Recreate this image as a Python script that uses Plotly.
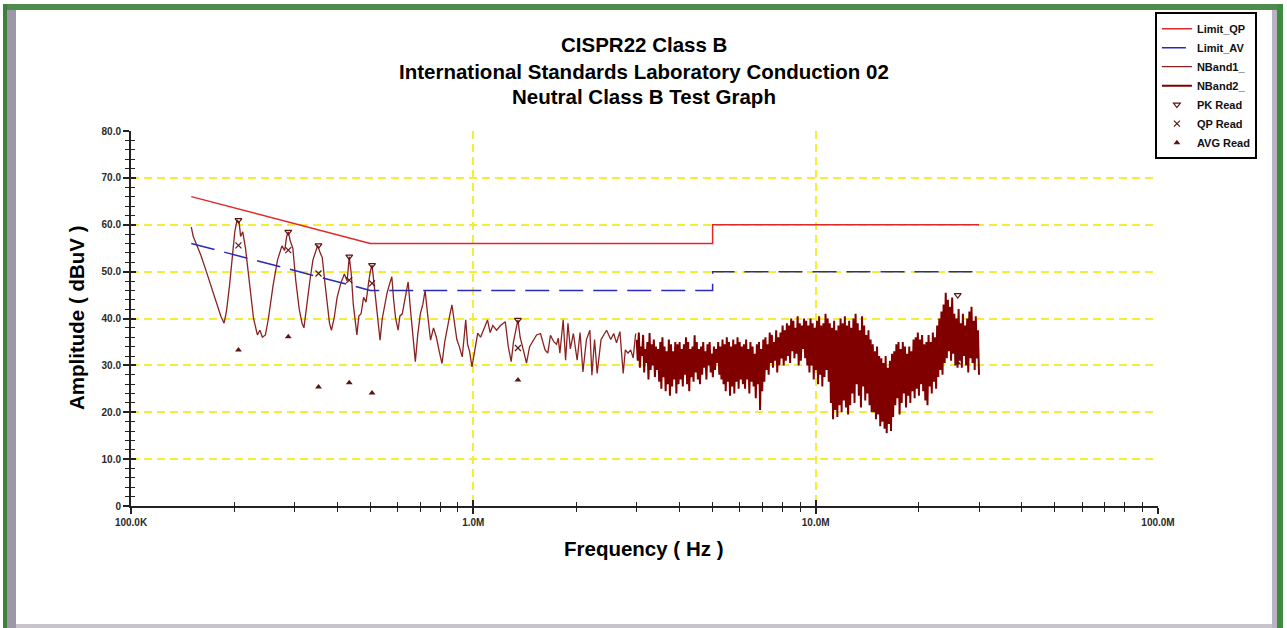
import numpy as np
import plotly.graph_objects as go

# ---------------- data ----------------
# Limit lines (frequency in MHz, level in dBuV)
limit_f_mhz = [0.15, 0.5, 5.0, 5.0, 30.0]
limit_qp = [66.0, 56.0, 56.0, 60.0, 60.0]
limit_av = [56.0, 46.0, 46.0, 50.0, 50.0]

# NBand1: low-frequency sweep, read point by point (MHz, dBuV)
nb1_f_mhz = [
    0.150, 0.152, 0.155, 0.160, 0.166, 0.172, 0.178, 0.183, 0.187, 0.190,
    0.194, 0.198, 0.201, 0.204, 0.207, 0.209, 0.212, 0.216, 0.222, 0.228,
    0.234, 0.238, 0.242, 0.247, 0.252, 0.260, 0.268, 0.276, 0.281, 0.285,
    0.288, 0.292, 0.297, 0.303, 0.310, 0.316, 0.320, 0.326, 0.333, 0.340,
    0.346, 0.351, 0.357, 0.362, 0.368, 0.374, 0.380, 0.385, 0.392, 0.400,
    0.410, 0.420, 0.428, 0.434, 0.440, 0.446, 0.452, 0.457, 0.463, 0.470,
    0.478, 0.486, 0.494, 0.500, 0.506, 0.512, 0.520, 0.527, 0.534, 0.542,
    0.552, 0.560, 0.570, 0.578, 0.585, 0.593, 0.603, 0.610, 0.620, 0.632,
    0.645, 0.655, 0.668, 0.677, 0.688, 0.700, 0.712, 0.723, 0.735, 0.750,
    0.765, 0.780, 0.795, 0.810, 0.825, 0.840, 0.855, 0.866, 0.880, 0.895,
    0.910, 0.928, 0.940, 0.950, 0.962, 0.975, 0.991, 1.010, 1.030, 1.050,
    1.075, 1.100, 1.120, 1.140, 1.170, 1.200, 1.240, 1.265, 1.290, 1.310,
    1.335, 1.350, 1.370, 1.400, 1.430, 1.460, 1.500, 1.530, 1.571, 1.600,
    1.620, 1.650, 1.680, 1.720, 1.750, 1.770, 1.790, 1.830, 1.860, 1.890,
    1.920, 1.960, 2.010, 2.050, 2.090, 2.140, 2.190, 2.220, 2.260, 2.300,
    2.360, 2.450, 2.520, 2.570, 2.620, 2.680, 2.740, 2.780, 2.830, 2.880,
    2.930, 2.980,
]
nb1_db = [
    59.5, 57.5, 56.0, 53.5, 50.0, 46.5, 43.0, 40.5, 39.0, 41.5,
    47.0, 54.0, 58.5, 61.0, 60.5, 57.5, 58.5, 55.0, 47.0, 40.0,
    36.5, 37.5, 36.0, 36.5, 40.0, 47.0, 52.5, 55.5, 54.5, 57.5,
    58.5, 56.5, 55.0, 48.0, 42.0, 39.0, 38.0, 43.0, 48.0, 52.5,
    54.0, 55.6, 54.0, 53.0, 48.0, 43.0, 39.0, 37.5, 40.0, 44.5,
    47.5, 49.5, 48.0, 53.2, 49.5, 43.0, 40.0, 36.5, 40.5, 41.0,
    44.5, 43.5, 47.5, 50.0, 51.4, 48.0, 44.0, 39.0, 35.4, 40.0,
    43.0, 45.5, 47.5, 48.9, 44.0, 40.0, 37.5, 40.5, 41.0, 44.5,
    47.8, 42.0, 34.5, 30.8, 36.5, 41.0, 43.0, 46.0, 41.0, 35.4,
    38.0, 36.0, 33.0, 30.4, 35.0, 38.5, 41.0, 42.9, 39.0, 35.5,
    34.0, 31.8, 36.0, 39.7, 34.5, 33.0, 29.7, 33.5, 36.9, 36.0,
    38.0, 39.7, 37.0, 38.5, 37.5, 38.5, 39.3, 34.0, 30.8, 35.0,
    38.0, 39.7, 36.0, 33.0, 30.5, 34.0, 35.5, 36.5, 36.8, 34.5,
    33.3, 32.6, 36.4, 35.0, 34.5, 35.8, 32.6, 39.7, 31.1, 39.0,
    33.5, 36.8, 31.1, 37.0, 28.6, 35.5, 37.5, 27.9, 35.5, 28.3,
    35.5, 37.5, 35.5, 36.8, 34.8, 37.2, 28.3, 33.3, 32.6, 33.3,
    31.6, 36.8,
]

# NBand2: dense 3 MHz - 30 MHz sweep, read as alternating peak / trough levels
nb2_start_mhz = 3.0
nb2_stop_mhz = 30.0
nb2_hi = [
    35.5, 37.0, 34.0, 36.5, 33.5, 35.0, 36.9, 34.5, 35.5, 34.0,
    33.5, 35.0, 36.0, 34.0, 33.0, 35.5, 34.5, 33.0, 35.0, 34.5,
    35.0, 33.5, 34.5, 36.0, 35.0, 33.5, 34.0, 36.4, 35.0, 33.5,
    34.0, 35.0, 33.0, 34.5, 35.0, 32.5, 34.0, 33.5, 35.0, 34.0,
    35.5, 34.5, 36.0, 35.0, 34.0, 35.5, 34.5, 36.0, 35.0, 34.0,
    34.5, 35.5, 33.5, 35.0, 34.0, 32.5, 34.5, 35.0, 33.5, 35.5,
    36.0, 34.5, 37.0, 36.5, 35.0, 37.5, 36.0, 37.0, 38.5, 37.5,
    39.0, 38.5, 40.0, 39.5, 38.0, 40.5, 39.0, 38.5, 40.0, 39.5,
    38.5, 40.0, 39.0, 38.0, 39.5, 40.5, 38.5, 39.0, 41.0, 40.0,
    39.0, 38.0, 39.5, 37.5, 38.5, 40.0, 39.0, 40.5, 38.5, 39.5,
    38.0, 40.0, 41.0, 39.0, 37.5, 40.5, 38.5, 36.5, 37.5, 35.5,
    34.5, 33.0, 34.0, 32.0, 31.5, 30.5, 32.0, 29.5, 31.0, 32.5,
    33.0, 34.5, 35.0, 33.5, 35.0, 34.0, 32.5, 34.0, 33.0, 35.5,
    36.0, 37.0, 35.5, 36.5, 34.5, 35.0, 36.5, 35.0, 37.0, 36.0,
    38.5, 40.0, 41.5, 43.0, 45.5, 44.0, 42.5, 44.5, 41.0, 40.0,
    42.0, 39.0, 41.0, 38.5, 40.0, 41.5, 42.5, 39.5, 40.5, 37.5,
]
nb2_lo = [
    31.0, 29.5, 32.0, 28.5, 30.5, 27.0, 29.0, 30.0, 27.5, 29.0,
    26.5, 25.0, 27.5, 24.5, 26.0, 23.5, 25.5, 27.0, 24.0, 26.0,
    27.0, 25.5, 28.0, 26.0, 24.5, 27.5, 26.5, 28.5, 27.0, 26.0,
    28.0, 29.5, 27.0, 30.0, 28.5, 27.5, 29.0, 30.5, 28.0, 27.0,
    26.0, 24.5, 26.5, 23.5, 25.5, 24.0, 26.5, 25.0, 27.0, 26.0,
    25.0, 27.0, 24.0, 26.5, 25.5, 23.0, 26.0, 20.5, 24.5, 26.5,
    29.0, 28.0, 30.5, 29.5, 31.0, 28.5, 30.0, 31.5, 30.0, 31.0,
    32.0, 30.5, 33.0, 31.5, 32.5, 30.0, 31.0, 33.5, 31.5, 30.0,
    28.5, 30.0, 27.0, 29.0, 26.0, 28.0, 25.5, 27.5, 29.0, 26.5,
    22.0, 18.5, 20.5, 19.0, 21.5, 20.0, 22.5, 21.0, 19.5, 21.5,
    24.0, 22.0, 26.0, 23.5, 21.0, 25.5, 22.5, 24.0, 21.5, 20.0,
    20.0, 18.5, 19.5, 17.0, 18.0, 16.5, 15.5, 17.5, 16.0, 19.0,
    21.5, 23.0, 19.5, 22.0, 24.0, 21.0, 23.5, 22.0, 24.5, 23.0,
    25.0, 23.5, 26.0, 24.5, 22.5, 21.5, 25.5, 24.0, 26.5, 25.0,
    27.5, 29.0, 28.0, 30.5, 31.5, 33.0, 31.0, 32.5, 30.0, 29.5,
    31.0, 29.5, 32.0, 30.0, 28.5, 31.5, 30.5, 29.0, 31.5, 28.0,
]

# Marker readings (MHz, dBuV)
read_f_mhz = [0.206, 0.288, 0.353, 0.434, 0.506, 1.35, 26.0]
pk_read = [61.0, 58.5, 55.6, 53.2, 51.4, 39.7, 45.0]
qp_read = [55.6, 54.6, 49.6, 48.2, 47.5, 33.7, 32.0]
avg_read = [33.3, 36.1, 25.4, 26.3, 24.1, 26.9, 30.5]

# Axis ticks
x_tick_hz = [1e5, 1e6, 1e7, 1e8]
x_tick_text = ["100.0K", "1.0M", "10.0M", "100.0M"]
y_tick_vals = [0, 10, 20, 30, 40, 50, 60, 70, 80]
y_tick_text = ["0", "10.0", "20.0", "30.0", "40.0", "50.0", "60.0", "70.0", "80.0"]

# ---------------- derived ----------------
MHZ = 1e6
lim_f = [f * MHZ for f in limit_f_mhz]
nb1_f = [f * MHZ for f in nb1_f_mhz]
nb2_f = np.geomspace(nb2_start_mhz * MHZ, nb2_stop_mhz * MHZ, 2 * len(nb2_hi))
nb2_db = np.column_stack([nb2_hi, nb2_lo]).ravel()
rd_f = [f * MHZ for f in read_f_mhz]
x_minor = [m * d for d in (1e5, 1e6, 1e7) for m in range(2, 10)]

FONT = "Liberation Sans, Arial, sans-serif"
MAROON = "#800000"
MK = "#5a1414"

fig = go.Figure()
fig.add_trace(go.Scatter(x=nb1_f, y=nb1_db, mode="lines", name="NBand1_",
                         line=dict(color="#8a2222", width=1.3), legendrank=3))
fig.add_trace(go.Scatter(x=nb2_f, y=nb2_db, mode="lines", name="NBand2_",
                         line=dict(color=MAROON, width=2.0), legendrank=4))
fig.add_trace(go.Scatter(x=lim_f, y=limit_qp, mode="lines", name="Limit_QP",
                         line=dict(color="#e02828", width=1.5), legendrank=1))
fig.add_trace(go.Scatter(x=lim_f, y=limit_av, mode="lines", name="Limit_AV",
                         line=dict(color="#2a2ab8", width=1.5, dash="24px,10px"),
                         legendrank=2))
fig.add_trace(go.Scatter(x=rd_f, y=pk_read, mode="markers", name="PK Read",
                         marker=dict(symbol="triangle-down-open", size=6, color=MK,
                                     line=dict(width=1.2)), legendrank=5))
fig.add_trace(go.Scatter(x=rd_f, y=qp_read, mode="markers", name="QP Read",
                         marker=dict(symbol="x-thin-open", size=6, color=MK,
                                     line=dict(width=1.2, color=MK)), legendrank=6))
fig.add_trace(go.Scatter(x=rd_f, y=avg_read, mode="markers", name="AVG Read",
                         marker=dict(symbol="triangle-up", size=6, color=MK),
                         legendrank=7))
# empty trace to host the overlay axes (inner half of the cross ticks)
fig.add_trace(go.Scatter(x=[], y=[], xaxis="x2", yaxis="y2", showlegend=False,
                         hoverinfo="skip"))

GRID = "#f2ee3a"
tickfont = dict(family=FONT, size=10, color="#2a2a2a", weight="bold")

XR = [5, 8]
YR = [0, 80]

fig.update_layout(
    width=1287, height=628, autosize=False,
    margin=dict(l=131, r=129, t=131, b=122),
    paper_bgcolor="white", plot_bgcolor="white",
    showlegend=True,
    legend=dict(x=0.997, y=1.317, xanchor="left", yanchor="top",
                bgcolor="white", bordercolor="black", borderwidth=2,
                font=dict(family=FONT, size=11, color="#111", weight="bold"),
                itemwidth=30, tracegroupgap=0),
    xaxis=dict(type="log", range=XR, tickmode="array", tickvals=x_tick_hz,
               ticktext=x_tick_text, tickfont=tickfont,
               ticks="outside", ticklen=6, tickwidth=1.5, tickcolor="#222",
               showline=True, linecolor="#222", linewidth=2,
               showgrid=True, gridcolor=GRID, gridwidth=1.5, griddash="8px,5px",
               zeroline=False,
               minor=dict(tickmode="array", tickvals=x_minor, ticks="outside",
                          ticklen=4, tickwidth=1.2, tickcolor="#222", showgrid=False)),
    yaxis=dict(range=YR, tickmode="array", tickvals=y_tick_vals,
               ticktext=y_tick_text, tickfont=tickfont,
               ticks="outside", ticklen=6, tickwidth=1.5, tickcolor="#222",
               showline=True, linecolor="#222", linewidth=2,
               showgrid=True, gridcolor=GRID, gridwidth=1.5, griddash="8px,5px",
               zeroline=False,
               minor=dict(dtick=2, tick0=0, ticks="outside", ticklen=4,
                          tickwidth=1.2, tickcolor="#222", showgrid=False)),
    xaxis2=dict(type="log", range=XR, overlaying="x", anchor="y2", side="bottom",
                tickmode="array", tickvals=x_tick_hz, showticklabels=False,
                ticks="inside", ticklen=6, tickwidth=1.5, tickcolor="#222",
                showline=False, showgrid=False, zeroline=False,
                minor=dict(tickmode="array", tickvals=x_minor, ticks="inside",
                           ticklen=4, tickwidth=1.2, tickcolor="#222", showgrid=False)),
    yaxis2=dict(range=YR, overlaying="y", anchor="x2", side="left",
                tickmode="array", tickvals=y_tick_vals, showticklabels=False,
                ticks="inside", ticklen=5, tickwidth=1.5, tickcolor="#222",
                showline=False, showgrid=False, zeroline=False,
                minor=dict(dtick=2, tick0=0, ticks="inside", ticklen=4,
                           tickwidth=1.2, tickcolor="#222", showgrid=False)),
)

# ---- titles (paper coords: plot area spans px x 131..1158, y 131..506)
def px_x(px):
    return (px - 131) / 1027.0

def px_y(py):
    return (506 - py) / 375.0

title_font = dict(family=FONT, size=20.5, color="black", weight="bold")
for txt, py in [("CISPR22 Class B", 44),
                ("International Standards Laboratory Conduction 02", 71),
                ("Neutral Class B Test Graph", 96)]:
    fig.add_annotation(text=txt, xref="paper", yref="paper", x=px_x(644),
                       y=px_y(py), xanchor="center", yanchor="middle",
                       showarrow=False, font=title_font)
fig.add_annotation(text="Amplitude ( dBuV )", xref="paper", yref="paper",
                   x=px_x(76), y=px_y(318), textangle=-90, xanchor="center",
                   yanchor="middle", showarrow=False, font=title_font)
fig.add_annotation(text="Frequency ( Hz )", xref="paper", yref="paper",
                   x=px_x(643), y=px_y(548), xanchor="center", yanchor="middle",
                   showarrow=False, font=title_font)

# ---- window frame
def frame_rect(x0, y0, x1, y1, color):
    fig.add_shape(type="rect", xref="paper", yref="paper",
                  x0=px_x(x0), x1=px_x(x1), y0=px_y(y1), y1=px_y(y0),
                  line=dict(width=0), fillcolor=color, layer="above")

frame_rect(4, 4, 1283, 10, "#4f8a4f")      # top green band
frame_rect(3, 4, 7, 628, "#3f7f3f")        # left green
frame_rect(7, 10, 16, 628, "#9c98a8")      # left grey bevel
frame_rect(1272, 10, 1277, 628, "#b8b4c0")  # right grey bevel
frame_rect(1277, 4, 1283, 628, "#3f8a3f")  # right green
frame_rect(16, 624, 1272, 628, "#c8c4cc")  # bottom grey

fig.write_html("out.html",
               config={"displayModeBar": False},
               post_script="document.body.style.margin='0';"
                           "document.body.style.overflow='hidden';")
